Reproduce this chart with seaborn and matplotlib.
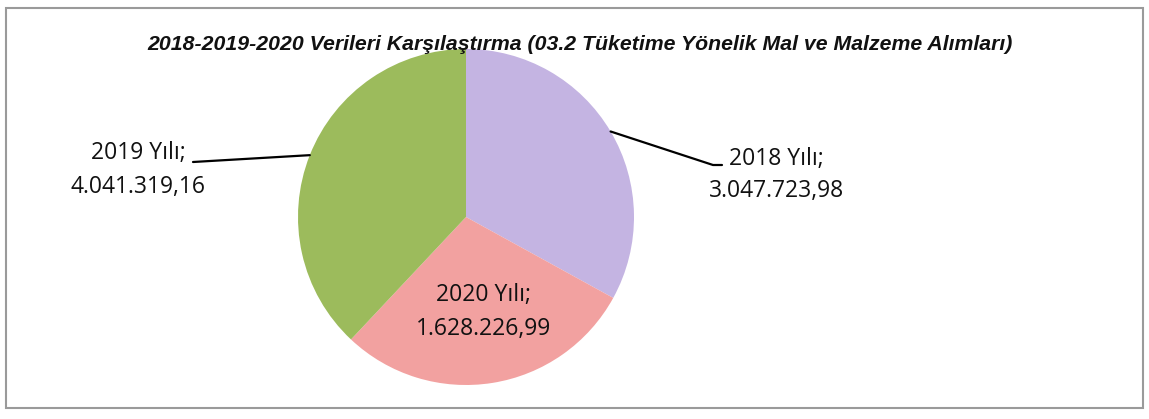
# ======================================
# plot.py
# 03.2 Tüketime Yönelik Mal ve Malzeme Alımları - pie
# ======================================

import numpy as np
import matplotlib
matplotlib.use("Agg")
import matplotlib.pyplot as plt
import seaborn as sns
from matplotlib.patches import Rectangle

# -----------------------------
# Data
# -----------------------------
years = ["2018 Yılı", "2019 Yılı", "2020 Yılı"]
amounts = ["3.047.723,98", "4.041.319,16", "1.628.226,99"]
# slice shares as drawn in the picture (%)
shares = [33.0, 38.0, 29.0]
order = [0, 2, 1]  # clockwise from the top: 2018, 2020, 2019
colors = ["#C4B4E2", "#9CBB5C", "#F2A1A0"]

title = "2018-2019-2020 Verileri Karşılaştırma (03.2 Tüketime Yönelik Mal ve Malzeme Alımları)"

# -----------------------------
# Plot
# -----------------------------
sns.set_theme(style="white")
plt.rcParams["font.family"] = ["Open Sans", "DejaVu Sans"]

W, H = 1149, 419
fig = plt.figure(figsize=(W / 100, H / 100), dpi=100)
ax = fig.add_axes([0, 0, 1, 1])

cx, cy, r = 466, 202, 168
wedges, _ = ax.pie(
    [shares[i] for i in order],
    colors=[colors[i] for i in order],
    startangle=90,
    counterclock=False,
    center=(cx, cy),
    radius=r,
    wedgeprops=dict(linewidth=0),
)
ax.set_xlim(0, W)
ax.set_ylim(0, H)
ax.set_aspect("equal")
ax.axis("off")

def mid_point(w):
    ang = np.deg2rad((w.theta1 + w.theta2) / 2)
    return cx + r * np.cos(ang), cy + r * np.sin(ang)

lbl_font = dict(fontsize=16.5, color="#111111", ha="center", va="center",
                linespacing=1.5)

# 2018 - right side with leader
w18 = wedges[order.index(0)]
x0, y0 = mid_point(w18)
ax.plot([x0, 713, 722], [y0, 254, 254], color="black", lw=1.6)
ax.text(776, 244, f"{years[0]};\n{amounts[0]}", **lbl_font)

# 2019 - left side with leader
w19 = wedges[order.index(1)]
x0, y0 = mid_point(w19)
ax.plot([x0, 193], [y0, 257], color="black", lw=1.6)
ax.text(138, 249, f"{years[1]};\n{amounts[1]}", **lbl_font)

# 2020 - inside
ax.text(484, 107, f"{years[2]};\n{amounts[2]}", **lbl_font)

fig.text(580 / W, 1 - 44 / H, title, ha="center", va="center",
         fontsize=15.3, fontweight="bold", fontstyle="italic",
         family=["Liberation Sans", "DejaVu Sans"], color="#111111")

# chart border
fig.patches.append(Rectangle((6 / W, 11 / H), 1137 / W, 400 / H,
                             transform=fig.transFigure, fill=False,
                             edgecolor="#9a9a9a", lw=1.5))

fig.savefig("out.png", dpi=100, facecolor="white")
